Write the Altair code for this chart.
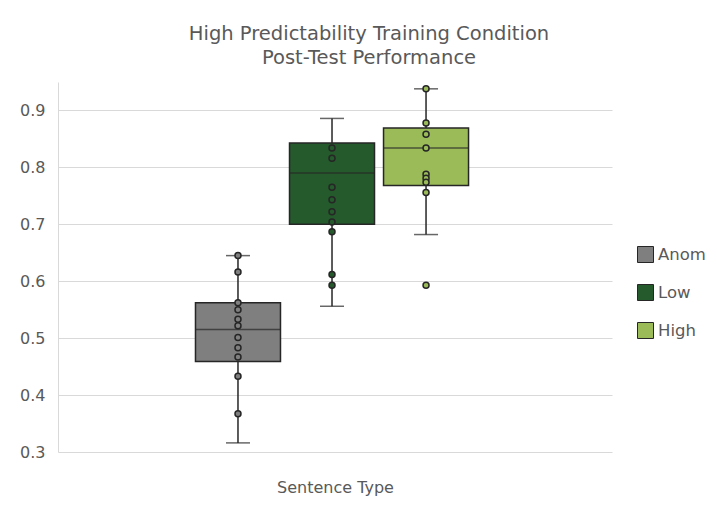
import altair as alt
import pandas as pd

series = ["Anom", "Low", "High"]
colors = ["#7f7f7f", "#245a2c", "#9bbb59"]
whisker_low = [0.316, 0.556, 0.682]
q1 = [0.459, 0.700, 0.768]
median = [0.515, 0.790, 0.834]
q3 = [0.562, 0.843, 0.869]
whisker_high = [0.645, 0.886, 0.938]

pts_anom = [0.645, 0.616, 0.562, 0.550, 0.533, 0.522, 0.501, 0.483, 0.467, 0.433, 0.367]
pts_low = [0.834, 0.816, 0.765, 0.743, 0.722, 0.704, 0.687, 0.612, 0.593]
pts_high = [0.938, 0.878, 0.858, 0.834, 0.788, 0.781, 0.774, 0.756, 0.593]

category = "Sentence Type"

stats = pd.DataFrame({
    "cat": [category] * 3,
    "series": series,
    "lo": whisker_low,
    "q1": q1,
    "med": median,
    "q3": q3,
    "hi": whisker_high,
})
pts = pd.DataFrame({
    "cat": category,
    "series": ["Anom"] * len(pts_anom) + ["Low"] * len(pts_low) + ["High"] * len(pts_high),
    "v": pts_anom + pts_low + pts_high,
})

DARK = "#262626"
GREY = "#595959"

x_enc = alt.X("cat:N", title="Sentence Type",
              scale=alt.Scale(paddingOuter=0.482, paddingInner=0, align=0.489),
              axis=alt.Axis(labels=False, ticks=False, domain=False, grid=False,
                            titleFont="DejaVu Sans", titleFontSize=16, titleFontWeight="normal",
                            titleColor=GREY, titlePadding=27))
xo_enc = alt.XOffset("series:N", scale=alt.Scale(domain=series, paddingInner=0.096, paddingOuter=0.048))
y_scale = alt.Scale(domain=[0.3, 0.95], nice=False, zero=False)
y_axis = alt.Axis(values=[0.3, 0.4, 0.5, 0.6, 0.7, 0.8, 0.9], format=".1f", title=None,
                  ticks=False, domain=True, domainColor="#d9d9d9", gridColor="#d9d9d9",
                  labelFont="DejaVu Sans", labelFontSize=16, labelColor=GREY, labelPadding=13)
color_scale = alt.Scale(domain=series, range=colors)

base = alt.Chart(stats)

whisker = base.mark_rule(color=DARK, strokeWidth=1.5).encode(
    x=x_enc, xOffset=xo_enc,
    y=alt.Y("lo:Q", scale=y_scale, axis=y_axis), y2="hi:Q")

cap_lo = base.mark_tick(color=DARK, size=24, thickness=1.5).encode(
    x=x_enc, xOffset=xo_enc, y=alt.Y("lo:Q", scale=y_scale))
cap_hi = base.mark_tick(color=DARK, size=24, thickness=1.5).encode(
    x=x_enc, xOffset=xo_enc, y=alt.Y("hi:Q", scale=y_scale))

box = base.mark_bar(stroke=DARK, strokeWidth=1.5, opacity=1).encode(
    x=x_enc, xOffset=xo_enc,
    y=alt.Y("q1:Q", scale=y_scale), y2="q3:Q",
    fill=alt.Fill("series:N", scale=color_scale, sort=series,
                  legend=alt.Legend(title=None, orient="none", legendX=579, legendY=164,
                                    symbolType="square", symbolSize=256,
                                    symbolStrokeColor=DARK, symbolStrokeWidth=1,
                                    symbolOpacity=1,
                                    labelFont="DejaVu Sans", labelFontSize=16.5,
                                    labelColor=GREY, rowPadding=17, labelOffset=4)))

med = base.mark_tick(color=DARK, size=85, thickness=1.5).encode(
    x=x_enc, xOffset=xo_enc, y=alt.Y("med:Q", scale=y_scale))

dots = alt.Chart(pts).mark_point(filled=True, shape="circle", size=36, stroke=DARK,
                                 strokeWidth=1.5, opacity=1).encode(
    x=x_enc, xOffset=xo_enc, y=alt.Y("v:Q", scale=y_scale),
    fill=alt.Fill("series:N", scale=color_scale, legend=None))

chart = alt.layer(whisker, cap_lo, cap_hi, box, med, dots).properties(
    width=554, height=370,
    autosize=alt.AutoSizeParams(type="none"),
    padding={"left": 50, "top": 74, "right": 97, "bottom": 46},
    title=alt.TitleParams(
        text=["High Predictability Training Condition", "Post-Test Performance"],
        font="DejaVu Sans", fontSize=19.5, fontWeight="normal", color=GREY,
        anchor="middle", dx=34, offset=14, lineHeight=24),
).configure_view(stroke=None).configure_axis(gridWidth=1)

chart.save("out.html", embed_options={"renderer": "svg", "actions": False})
